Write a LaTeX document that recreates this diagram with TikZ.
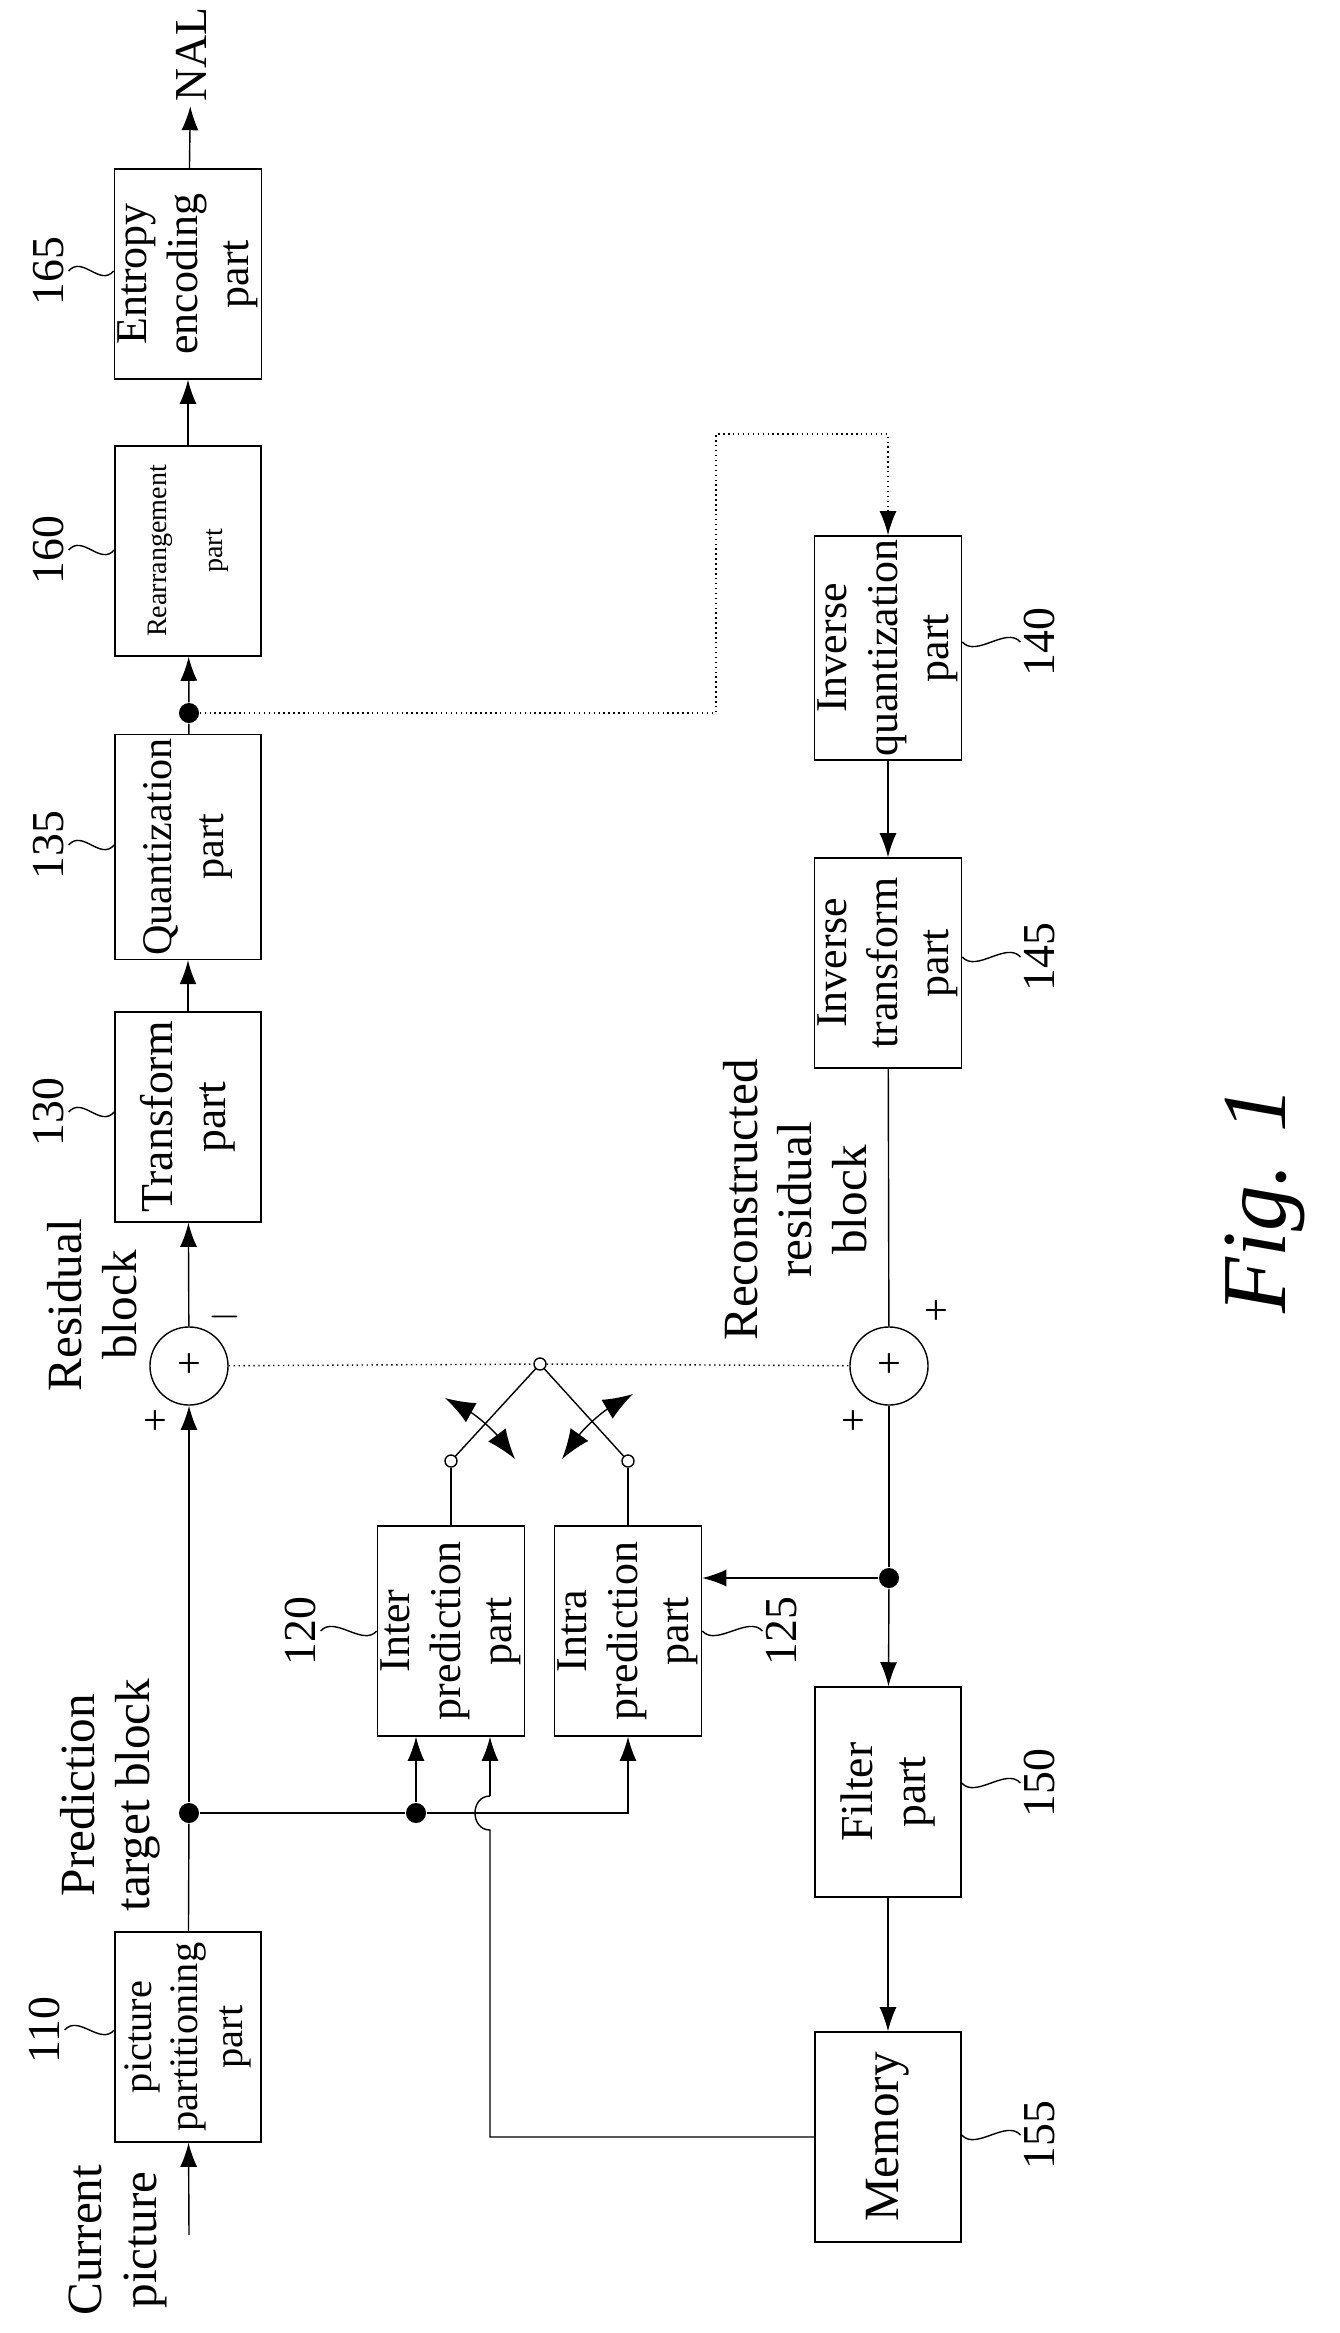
\documentclass[tikz,border=0pt]{standalone}
\usepackage{fontspec}
\setmainfont{Liberation Serif}
\usetikzlibrary{arrows.meta}

\tikzset{
  blk/.style={draw, rotate=90, minimum width=2.1cm, minimum height=1.46cm,
    align=center, inner sep=1pt, font=\fontsize{12.5}{14.5}\selectfont},
  num/.style={rotate=90, inner sep=1pt, font=\fontsize{13}{15}\selectfont},
  lbl/.style={rotate=90, align=center, inner sep=1pt, font=\fontsize{14}{15.5}\selectfont},
  arr/.style={-{Latex[length=2.4mm,width=1.7mm]}},
  dot/.style={circle, fill, inner sep=0pt, minimum size=2mm},
  sw/.style={circle, draw, inner sep=0pt, minimum size=1.2mm},
  adder/.style={circle, draw, minimum size=0.78cm, inner sep=0pt, font=\large},
  sq/.style={thin}
}

\begin{document}
\begin{tikzpicture}[x=0.01cm, y=-0.01cm, thin]
\useasboundingbox (0,0) rectangle (1340,2333);

% main column
\node[blk] (ent) at (188,274) {Entropy\\encoding\\part};
\node[blk, font=\fontsize{8}{12}\selectfont] (rea) at (188,551) {Rearrangement\\[4pt]part};
\node[blk, font=\fontsize{12}{15}\selectfont] (qua) at (188,847) {Quantization\\part};
\node[blk, font=\fontsize{13}{15}\selectfont] (tra) at (188,1117) {Transform\\part};
\node[blk, font=\fontsize{11.5}{13}\selectfont] (ptp) at (188,2037) {picture\\partitioning\\part};
\node[adder] (add1) at (189,1366) {+};

% reconstruction column
\node[blk] (invq) at (888,648) {Inverse\\quantization\\part};
\node[blk] (invt) at (888,963) {Inverse\\transform\\part};
\node[blk, font=\fontsize{13}{15}\selectfont] (flt) at (888,1792) {Filter\\part};
\node[blk, font=\fontsize{14}{16}\selectfont] (mem) at (888,2137) {Memory};
\node[adder] (add2) at (889,1366) {+};

% prediction
\node[blk] (inter) at (451,1631) {Inter\\prediction\\part};
\node[blk] (intra) at (628,1631) {Intra\\prediction\\part};

% reference numbers
\node[num] (n165) at (49,271) {165};
\node[num] (n160) at (49,550) {160};
\node[num] (n135) at (49,845) {135};
\node[num] (n130) at (49,1112) {130};
\node[num] (n110) at (45,2030) {110};
\node[num] (n120) at (301,1631) {120};
\node[num] (n125) at (782,1631) {125};
\node[num] (n140) at (1040,642) {140};
\node[num] (n145) at (1040,957) {145};
\node[num] (n150) at (1040,1783) {150};
\node[num] (n155) at (1040,2135) {155};

% texts
\node[num] (nal) at (191,55) {NAL};
\node[lbl] (res) at (92,1305) {Residual\\block};
\node[lbl] (rec) at (795,1200) {Reconstructed\\residual\\block};
\node[lbl] (pred) at (110,1795) {Prediction\\target block};
\node[lbl] (cur) at (118,2240) {Current\\picture};
\node[rotate=90, font=\fontsize{26}{28}\selectfont\itshape] (fig) at (1265,1200) {Fig. 1};
\node[font=\large] (p1) at (155,1423) {+};
\node[font=\large] (m1) at (225,1317) {$-$};
\node[font=\large] (p2) at (853,1423) {+};
\node[font=\large] (p3) at (936,1313) {+};

% junctions
\node[dot] (d1) at (189,713) {};
\node[dot] (d2) at (189,1813) {};
\node[dot] (d3) at (416,1813) {};
\node[dot] (d4) at (889,1578) {};
\node[sw] (sp) at (540,1364) {};
\node[sw] (sa) at (451,1461) {};
\node[sw] (sb) at (628,1461) {};
\coordinate (cin) at (189,2235);
\coordinate (fbA) at (716,434);
\coordinate (hopB) at (490,1830);
\coordinate (hopT) at (490,1796);
\coordinate (swl1) at (445,1398);
\coordinate (swl2) at (515,1459);
\coordinate (swr1) at (633,1394);
\coordinate (swr2) at (562,1459);

% forward path
\draw[arr] (cin) -- (ptp);
\draw (ptp) -- (d2);
\draw[arr] (d2) -- (add1);
\draw[arr] (add1) -- (tra);
\draw[arr] (tra) -- (qua);
\draw (qua) -- (d1);
\draw[arr] (d1) -- (rea);
\draw[arr] (rea) -- (ent);
\draw[arr] (ent) -- (nal);

% reconstruction path
\draw[arr, densely dotted] (d1) -| (fbA) -| (invq);
\draw[arr] (invq) -- (invt);
\draw (invt) -- (add2);
\draw (add2) -- (d4);
\draw[arr] (d4) -- (flt);
\draw[arr] (flt) -- (mem);
\draw[arr] (d4) -- (d4 -| intra.south);

% prediction inputs
\draw (d2) -- (d3);
\draw[arr] (d3) -- (d3 |- inter.west);
\draw[arr] (d3) -| (intra.west);
\draw (mem.north) -| (hopB) .. controls (470,1830) and (470,1796) .. (hopT);
\draw[arr] (hopT) -- (hopT |- inter.west);

% switch
\draw (sa) -- (sa |- inter.east);
\draw (sb) -- (sb |- intra.east);
\draw[densely dotted] (add1) -- (sp) -- (add2);
\draw (sp) -- (sa);
\draw (sp) -- (sb);
\draw[{Latex[length=3mm,width=2.2mm]}-{Latex[length=3mm,width=2.2mm]}] (swl1) to[bend left=12] (swl2);
\draw[{Latex[length=3mm,width=2.2mm]}-{Latex[length=3mm,width=2.2mm]}] (swr1) to[bend right=12] (swr2);

% leader squiggles
\foreach \n/\b in {n165/ent, n160/rea, n135/qua, n130/tra, n110/ptp, n120/inter}
  \draw[sq] (\n.south) .. controls ++(14,-16) and ++(-14,16) .. (\n.south -| \b.north);
\foreach \n/\b in {n140/invq, n145/invt, n150/flt, n155/mem, n125/intra}
  \draw[sq] (\n.north) .. controls ++(-14,-16) and ++(14,16) .. (\n.north -| \b.south);
\end{tikzpicture}
\end{document}
